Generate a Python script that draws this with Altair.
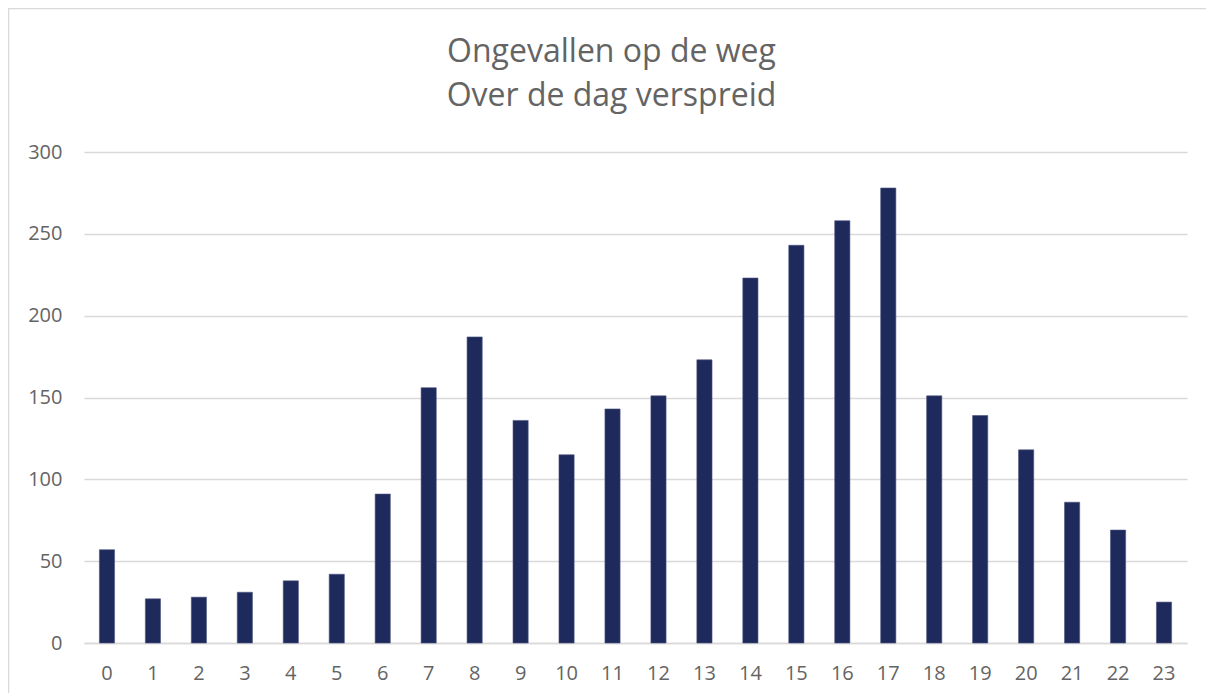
import altair as alt
import pandas as pd

hours = [str(h) for h in range(24)]
counts = [57, 27, 28, 31, 38, 42, 91, 156, 187, 136, 115, 143, 151, 173,
          223, 243, 258, 278, 151, 139, 118, 86, 69, 25]
title_lines = ["Ongevallen op de weg", "Over de dag verspreid"]
y_ticks = [0, 50, 100, 150, 200, 250, 300]

df = pd.DataFrame({"uur": hours, "aantal": counts})

TEXT = "#646464"
GRID = "#d9d9d9"
FONT = "Open Sans"

W, H = 1103, 491
PAD_L, PAD_T = 76, 144

bars = alt.Chart(df).mark_bar(color="#1F2A5C", stroke="#4a5480", strokeWidth=0.6).encode(
    x=alt.X("uur:N", sort=hours,
            scale=alt.Scale(paddingInner=0.67, paddingOuter=0.335),
            axis=alt.Axis(title=None, labelAngle=0, labelFontSize=20, labelFont=FONT,
                          labelColor=TEXT, labelPadding=20, ticks=False,
                          domainColor=GRID, domainWidth=1.3, grid=False)),
    y=alt.Y("aantal:Q", scale=alt.Scale(domain=[0, 300], nice=False),
            axis=alt.Axis(title=None, values=y_ticks, labelFontSize=20, labelFont=FONT,
                          labelColor=TEXT, labelPadding=22, ticks=False, domain=False,
                          gridColor=GRID, gridWidth=1.3)),
)

border = alt.Chart(pd.DataFrame({"k": [0]})).mark_rect(
    fill=None, stroke=GRID, strokeWidth=1.5, clip=False
).encode(
    x=alt.value(-PAD_L + 0.5), x2=alt.value(W + 200),
    y=alt.value(-PAD_T + 0.5), y2=alt.value(H + 200),
)

chart = alt.layer(border, bars).properties(
    width=W, height=H,
    padding={"left": PAD_L, "top": PAD_T, "right": 19, "bottom": 50},
    autosize=alt.AutoSizeParams(type="none"),
    background="white",
    title=alt.Title(title_lines, fontSize=32, font=FONT, fontWeight="normal",
                    color=TEXT, lineHeight=44, anchor="middle", dx=-24,
                    baseline="alphabetic", offset=-130),
).configure_view(stroke=None)

chart.save("out.html", embed_options={"renderer": "svg", "actions": False})
